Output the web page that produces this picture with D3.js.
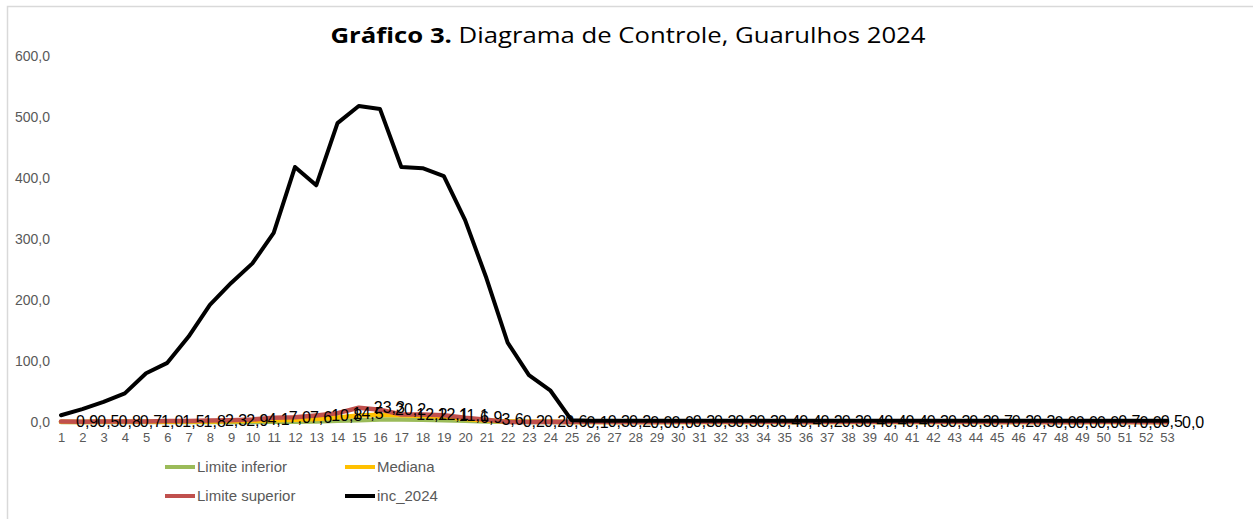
<!DOCTYPE html>
<html><head><meta charset="utf-8">
<script src="https://cdn.jsdelivr.net/npm/d3@7"></script>
<style>
html,body{margin:0;padding:0;background:#fff;}
svg{display:block;}
</style></head>
<body>
<svg id="chart" width="1253" height="519"></svg>
<script>
const weeks = d3.range(1, 54);
const inc2024 = [11, 21, 33, 47, 80, 97, 140, 192, 228, 260, 310, 418, 388, 490, 518, 513, 418, 416, 403, 331, 236, 130, 77, 52, 3,
  2, 2, 2, 2, 2, 2, 2, 2, 2, 2, 2, 2, 2, 2, 2, 2, 2, 2, 2, 2, 2, 2, 2, 2, 2, 2, 2, 2];
const limiteSuperior = [0.9, 0.5, 0.8, 0.7, 1.0, 1.5, 1.8, 2.3, 2.9, 4.1, 7.0, 7.6, 10.8, 14.5, 23.3, 20.2, 12.2, 12.1, 11.1, 6.9, 3.6, 0.2, 0.2, 0.6, 0.1,
  0.3, 0.2, 0.0, 0.0, 0.3, 0.3, 0.3, 0.3, 0.4, 0.4, 0.2, 0.3, 0.4, 0.4, 0.4, 0.3, 0.3, 0.3, 0.7, 0.2, 0.3, 0.0, 0.0, 0.0, 0.7, 0.0, 0.5, 0.0];
const mediana = [0.3, 0.2, 0.3, 0.3, 0.4, 0.6, 0.8, 1.0, 1.3, 2.0, 3.0, 3.5, 5.0, 7.5, 10.5, 12.0, 11.0, 10.0, 8.0, 5.0, 2.5, 1.0, 0.5, 0.3, 0.1,
  0.1, 0.1, 0.0, 0.0, 0.1, 0.1, 0.1, 0.1, 0.1, 0.1, 0.1, 0.1, 0.1, 0.1, 0.1, 0.1, 0.1, 0.1, 0.2, 0.1, 0.1, 0.0, 0.0, 0.0, 0.2, 0.0, 0.1, 0.0];
const limiteInferior = [0, 0, 0, 0, 0, 0, 0, 0, 0, 0, 0.3, 0.5, 1.0, 2.0, 3.0, 4.0, 4.0, 3.5, 3.0, 2.0, 1.0, 0.3, 0, 0, 0,
  0, 0, 0, 0, 0, 0, 0, 0, 0, 0, 0, 0, 0, 0, 0, 0, 0, 0, 0, 0, 0, 0, 0, 0, 0, 0, 0, 0];
const yTicks = [0, 100, 200, 300, 400, 500, 600];
const seriesNames = ["Limite inferior", "Mediana", "Limite superior", "inc_2024"];
const seriesColors = ["#9BBB59", "#FFC000", "#C0504D", "#000000"];
const titleBold = "Gráfico 3.";
const titleRest = " Diagrama de Controle, Guarulhos 2024";

const svg = d3.select("#chart");
const fmt = v => v.toFixed(1).replace(".", ",");
const FONT = "'Liberation Sans', Arial, sans-serif";

// frame
svg.append("rect").attr("x", 7.5).attr("y", 6.5).attr("width", 1300).attr("height", 600)
  .attr("fill", "none").attr("stroke", "#d9d9d9").attr("stroke-width", 1.5);

const x = d3.scalePoint().domain(weeks).range([61, 1167]);
const y = d3.scaleLinear().domain([0, 600]).range([422, 56]);

// title
const title = svg.append("text").attr("x", 628).attr("y", 43).attr("text-anchor", "middle")
  .attr("font-family", "'Open Sans', 'Liberation Sans', Arial, sans-serif")
  .attr("font-size", 21).attr("fill", "#000")
  .attr("textLength", 595).attr("lengthAdjust", "spacingAndGlyphs");
title.append("tspan").attr("font-weight", "bold").text(titleBold);
title.append("tspan").text(titleRest);

// y axis
const yAxis = svg.append("g").attr("transform", "translate(53,0)")
  .call(d3.axisLeft(y).tickValues(yTicks).tickSize(0).tickPadding(3).tickFormat(fmt));
yAxis.select(".domain").remove();
yAxis.selectAll("text").attr("font-family", FONT).attr("font-size", 14).attr("fill", "#595959");

// x axis
const xAxis = svg.append("g").attr("transform", "translate(0,422)")
  .call(d3.axisBottom(x).tickSize(0).tickPadding(11));
xAxis.select(".domain").remove();
xAxis.selectAll("text").attr("font-family", FONT).attr("font-size", 13).attr("fill", "#595959");

const line = d3.line().x((d, i) => x(weeks[i])).y(d => y(d));
const allSeries = [limiteInferior, mediana, limiteSuperior, inc2024];
allSeries.forEach((s, k) => {
  svg.append("path").datum(s).attr("d", line).attr("fill", "none")
    .attr("stroke", seriesColors[k]).attr("stroke-width", k === 3 ? 4 : 4.5)
    .attr("stroke-linejoin", "round").attr("stroke-linecap", "round");
});

// data labels (Limite superior)
svg.append("g").selectAll("text").data(limiteSuperior).join("text")
  .attr("x", (d, i) => x(weeks[i]) + 15)
  .attr("y", d => y(d))
  .attr("dy", "0.35em")
  .attr("font-family", FONT).attr("font-size", 16).attr("fill", "#000")
  .text(d => fmt(d));

// legend
const legPos = [[165, 467], [345, 467], [165, 496], [345, 496]];
const leg = svg.append("g").selectAll("g").data(seriesNames).join("g")
  .attr("transform", (d, i) => `translate(${legPos[i][0]},${legPos[i][1]})`);
leg.append("line").attr("x1", 0).attr("x2", 30).attr("y1", 0).attr("y2", 0)
  .attr("stroke", (d, i) => seriesColors[i]).attr("stroke-width", 4);
leg.append("text").attr("x", 32).attr("y", 0).attr("dy", "0.35em")
  .attr("font-family", FONT).attr("font-size", 15).attr("fill", "#595959").text(d => d);
</script>
</body></html>
